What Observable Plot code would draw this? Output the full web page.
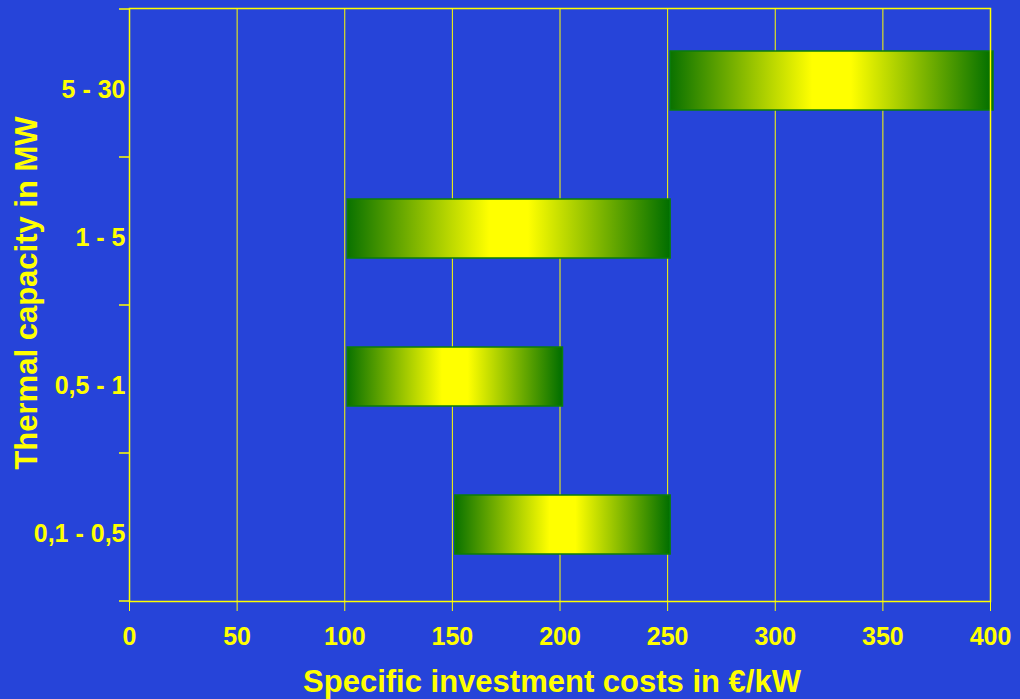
<!DOCTYPE html>
<html>
<head>
<meta charset="utf-8">
<script src="https://cdn.jsdelivr.net/npm/d3@7"></script>
<script src="https://cdn.jsdelivr.net/npm/@observablehq/plot@0.6"></script>
<style>
  html, body { margin: 0; padding: 0; background: #2644d9; }
  #chart { width: 1020px; height: 699px; overflow: hidden; }
</style>
</head>
<body>
<div id="chart"></div>
<script>
// Thermal capacity classes (top to bottom) and investment cost ranges in €/kW
const categories = ["5 - 30", "1 - 5", "0,5 - 1", "0,1 - 0,5"];
const costLow = [250, 100, 100, 150];
const costHigh = [400, 250, 200, 250];
const xTicks = [0, 50, 100, 150, 200, 250, 300, 350, 400];

const xTitle = "Specific investment costs in €/kW";
const yTitle = "Thermal capacity in MW";

const YELLOW = "#ffff00";
const BG = "#2644d9";

const rows = categories.map((c, i) => ({cat: c, lo: costLow[i], hi: costHigh[i]}));

// green → yellow → green horizontal gradient used by every bar
const gradientDefs = () => {
  const defs = d3.create("svg:defs");
  const lg = defs.append("linearGradient")
    .attr("id", "barGrad")
    .attr("x1", "0").attr("x2", "1").attr("y1", "0").attr("y2", "0");
  [["0%", "#0a7200"], ["44%", "#ffff00"], ["56%", "#ffff00"], ["100%", "#006e00"]]
    .forEach(([o, c]) => lg.append("stop").attr("offset", o).attr("stop-color", c));
  return defs.node();
};

// short ticks on the category axis at each band boundary
const bandEdgeTicks = (index, scales, values, dims) => {
  const {x, y} = scales;
  const g = d3.create("svg:g").attr("stroke", YELLOW).attr("stroke-width", 1.5);
  const bw = y.bandwidth ? y.bandwidth() : (dims.height - dims.marginTop - dims.marginBottom) / categories.length;
  const edges = categories.map(c => y(c)).concat([y(categories[categories.length - 1]) + bw]);
  const x0 = x(xTicks[0]);
  edges.forEach(e => {
    g.append("line").attr("x1", x0 - 10).attr("x2", x0).attr("y1", e).attr("y2", e);
  });
  return g.node();
};

const plot = Plot.plot({
  width: 1020,
  height: 699,
  marginLeft: 129,
  marginRight: 30,
  marginTop: 8,
  marginBottom: 98,
  style: {
    background: BG,
    color: YELLOW,
    fontFamily: "'Liberation Sans', Arial, sans-serif",
    fontWeight: "bold"
  },
  x: {domain: [0, 400]},
  y: {domain: categories, padding: 0},
  marks: [
    gradientDefs,
    Plot.gridX(xTicks, {stroke: YELLOW, strokeOpacity: 1, strokeWidth: 1}),
    Plot.barX(rows, {
      x1: "lo", x2: "hi", y: "cat",
      fill: "url(#barGrad)",
      stroke: "#0b7d0b", strokeWidth: 1.5,
      insetTop: 42, insetBottom: 47, dx: 3
    }),
    Plot.frame({stroke: YELLOW, strokeWidth: 1.5}),
    bandEdgeTicks,
    Plot.axisX({
      ticks: xTicks, tickSize: 10, tickPadding: 16,
      fontSize: 25, label: null, stroke: YELLOW, fill: YELLOW
    }),
    Plot.axisY({
      tickSize: 0, tickPadding: 4, fontSize: 25, dy: 6,
      label: null, fill: YELLOW
    }),
    Plot.text([xTitle], {
      frameAnchor: "bottom", dy: 90, dx: -8,
      fontSize: 31, fill: YELLOW, fontWeight: "bold"
    }),
    Plot.text([yTitle], {
      frameAnchor: "left", textAnchor: "middle", lineAnchor: "middle",
      rotate: -90, dx: -102, dy: -12,
      fontSize: 31, fill: YELLOW, fontWeight: "bold"
    })
  ]
});

document.getElementById("chart").appendChild(plot);
</script>
</body>
</html>
